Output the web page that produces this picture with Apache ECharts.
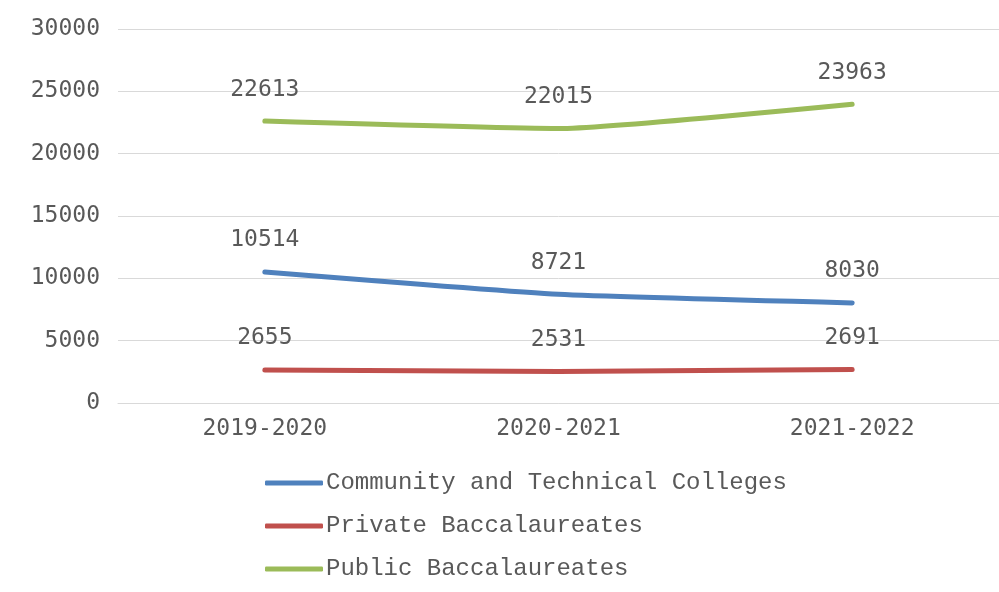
<!DOCTYPE html>
<html>
<head>
    <meta charset="utf-8"/>
    <script src="https://cdn.jsdelivr.net/npm/echarts@6/dist/echarts.min.js"></script>
    <style>
        body, html { margin: 0; width: 100%; height: 100%; background: #fff; }
        #chart { width: 999px; height: 592px; }
    </style>
</head>
<body>
<div id="chart"></div>
<script>
    var years = ['2019-2020', '2020-2021', '2021-2022'];
    var community = [10514, 8721, 8030];
    var privateBacc = [2655, 2531, 2691];
    var publicBacc = [22613, 22015, 23963];

    var mono = 'DejaVu Sans Mono';
    var gray = '#595959';

    function line(name, data, color) {
        return {
            name: name,
            type: 'line',
            data: data,
            symbol: 'circle',
            symbolSize: 0,
            showSymbol: true,
            smooth: 0.15,
            lineStyle: {color: color, width: 5, cap: 'round'},
            itemStyle: {color: color},
            label: {
                show: true,
                position: 'top',
                distance: 20,
                color: gray,
                fontFamily: mono,
                fontSize: 23
            }
        };
    }

    var chart = echarts.init(document.getElementById('chart'));
    chart.setOption({
        animation: false,
        grid: {left: 118, right: -3, top: 29, bottom: 189},
        xAxis: {
            type: 'category',
            data: years,
            axisLine: {lineStyle: {color: '#d9d9d9'}},
            axisTick: {show: false},
            axisLabel: {color: gray, fontFamily: mono, fontSize: 23, margin: 15}
        },
        yAxis: {
            type: 'value',
            min: 0,
            max: 30000,
            interval: 5000,
            axisLabel: {
                color: gray, fontFamily: mono, fontSize: 23, margin: 18,
                formatter: function (v) { return String(v); }
            },
            splitLine: {lineStyle: {color: '#d9d9d9', width: 1}}
        },
        legend: {
            orient: 'vertical',
            left: 260,
            top: 466,
            itemGap: 19,
            itemWidth: 58,
            itemHeight: 5,
            icon: 'roundRect',
            textStyle: {color: gray, fontFamily: 'Liberation Mono', fontSize: 24, padding: [0, 0, 0, -2]}
        },
        series: [
            line('Community and Technical Colleges', community, '#4F81BD'),
            line('Private Baccalaureates', privateBacc, '#C0504D'),
            line('Public Baccalaureates', publicBacc, '#9BBB59')
        ]
    });
</script>
</body>
</html>
